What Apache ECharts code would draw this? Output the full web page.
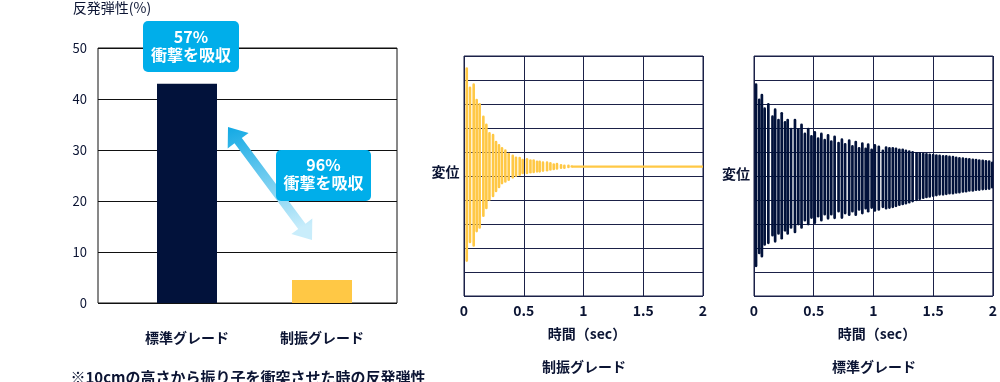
<!DOCTYPE html>
<html>
<head>
<meta charset="utf-8">
<script src="https://cdn.jsdelivr.net/npm/echarts@6/dist/echarts.min.js"></script>
<style>
html,body{margin:0;padding:0;background:#fff;}
#c{width:1000px;height:382px;}
</style>
</head>
<body>
<div id="c"></div>
<script>
// ---- Data ----
var barCategories = ['標準グレード', '制振グレード'];
var barValues = [43, 4.5];
var barTicks = [0, 10, 20, 30, 40, 50];
var timeTicks = ['0', '0.5', '1', '1.5', '2'];

// 制振グレード: oscillation peaks (time, upper, lower)
var damperTime = [0.023,0.050,0.081,0.106,0.131,0.162,0.187,0.213,0.243,0.268,0.293,0.318,0.346,0.374,0.408,0.435,0.466,0.491,0.527,0.556,0.583,0.611,0.633,0.661,0.695,0.723,0.751,0.778,0.812,0.840,0.874,0.901];
var damperHigh = [4.53,3.73,3.86,3.22,3.04,2.52,2.19,1.83,1.76,1.47,1.33,1.21,1.11,0.97,0.90,0.81,0.80,0.72,0.75,0.70,0.70,0.65,0.65,0.61,0.61,0.58,0.53,0.55,0.50,0.48,0.48,0.45];
var damperLow  = [-3.58,-2.80,-2.95,-2.35,-2.20,-1.71,-1.39,-1.03,-0.89,-0.68,-0.51,-0.35,-0.28,-0.21,-0.11,-0.04,0.00,0.07,0.07,0.10,0.11,0.14,0.14,0.17,0.19,0.22,0.24,0.26,0.29,0.29,0.32,0.35];
var damperRestTime = [0.901, 2.0];
var damperRestValue = [0.39, 0.39];

// 標準グレード: oscillation peaks (time, upper, lower)
var standardTime = [0.017,0.044,0.066,0.089,0.120,0.155,0.177,0.205,0.232,0.260,0.282,0.310,0.343,0.371,0.398,0.426,0.454,0.481,0.509,0.537,0.564,0.592,0.620,0.647,0.675,0.708,0.736,0.763,0.797,0.824,0.852,0.880,0.907,0.935,0.956,0.985,1.012,1.045,1.079,1.106,1.134,1.162,1.189,1.217,1.245,1.272,1.300,1.328,1.361,1.388,1.417,1.444,1.471,1.500,1.527,1.554,1.583,1.610,1.637,1.666,1.693,1.720,1.749,1.776,1.803,1.832,1.859,1.886,1.915,1.942,1.969,1.995];
var standardHigh = [3.86,3.23,3.43,2.86,3.04,2.53,2.82,2.39,2.67,2.29,
  2.39,2.01,2.39,2.00,2.19,1.81,2.01,1.71,1.87,1.61,
  1.81,1.55,1.75,1.49,1.69,1.43,1.57,1.38,1.53,1.29,
  1.47,1.21,1.41,1.19,1.36,1.15,1.33,1.27,1.10,1.24,
  1.21,1.21,1.19,1.15,1.15,1.10,1.07,1.04,1.00,0.99,
  0.97,0.96,0.94,0.93,0.91,0.90,0.88,0.87,0.85,0.84,
  0.81,0.79,0.78,0.76,0.75,0.73,0.72,0.70,0.69,0.67,
  0.66,0.60];
var standardLow = [-3.80,-3.26,-3.40,-2.91,-2.84,-2.52,-2.78,-2.45,-2.65,-2.32,
  -2.45,-2.20,-2.39,-2.06,-2.20,-1.90,-2.06,-1.79,-2.00,-1.73,
  -1.90,-1.65,-1.82,-1.65,-1.80,-1.52,-1.79,-1.60,-1.67,-1.52,
  -1.67,-1.45,-1.60,-1.40,-1.52,-1.37,-1.49,-1.45,-1.34,-1.40,
  -1.37,-1.34,-1.30,-1.25,-1.22,-1.19,-1.15,-1.10,-1.05,-1.00,
  -0.96,-0.93,-0.91,-0.88,-0.85,-0.82,-0.82,-0.80,-0.77,-0.77,
  -0.74,-0.73,-0.70,-0.69,-0.66,-0.66,-0.63,-0.62,-0.60,-0.59,
  -0.58,-0.52];

// ---- Styling ----
var FONT = "'Noto Sans CJK JP','Noto Sans',sans-serif";
var NAVY = '#0B1433';
var LINE = '#1B2148';
var BAR_NAVY = '#02123B';
var BAR_YELLOW = '#FFC845';
var BLUE = '#00AEEA';

function zip3(t, h, l) {
  var out = [];
  for (var i = 0; i < t.length; i++) out.push([t[i], h[i], l[i]]);
  return out;
}
function zip2(t, v) {
  var out = [];
  for (var i = 0; i < t.length; i++) out.push([t[i], v[i]]);
  return out;
}
function strokeRender(color, w) {
  return function (params, api) {
    var p1 = api.coord([api.value(0), api.value(1)]);
    var p2 = api.coord([api.value(0), api.value(2)]);
    return {
      type: 'rect',
      shape: { x: p1[0] - w / 2, y: p1[1], width: w, height: Math.max(1, p2[1] - p1[1]), r: w / 2 },
      style: { fill: color }
    };
  };
}

var chart = echarts.init(document.getElementById('c'), null, { renderer: 'canvas' });

var timeAxisBase = {
  type: 'value', min: 0, max: 2, interval: 0.5,
  axisLine: { show: false }, axisTick: { show: false },
  splitLine: { show: true, lineStyle: { color: LINE, width: 1 } },
  axisLabel: { color: NAVY, fontFamily: FONT, fontWeight: 'bold', fontSize: 14, margin: 8,
    formatter: function (v) { var s = String(v); return timeTicks.indexOf(s) >= 0 ? s : ''; } }
};
var dispAxisBase = {
  type: 'value', min: -5, max: 5, interval: 1,
  axisLine: { show: false }, axisTick: { show: false }, axisLabel: { show: false },
  splitLine: { show: true, lineStyle: { color: LINE, width: 1 } }
};

function T(text, x, y, font, color, extra) {
  var s = { text: text, x: x, y: y, font: font, fill: color || NAVY, textAlign: 'center', textVerticalAlign: 'middle' };
  if (extra) for (var k in extra) s[k] = extra[k];
  return { type: 'text', z: 100, style: s };
}

// arrow geometry (double-headed)
var arrowPts = [[228,127],[248.6,132.9],[241.8,138.0],[305.5,223.7],[312.3,218.6],[312,240],[291.4,234.1],[298.2,229.0],[234.5,143.3],[227.7,148.4]];

var option = {
  animation: false,
  backgroundColor: '#ffffff',
  grid: [
    { left: 98, top: 48, width: 299, height: 255, show: true, borderColor: '#111111', borderWidth: 1, backgroundColor: 'transparent' },
    { left: 119.5, top: 48, width: 270, height: 255 },
    { left: 464, top: 56, width: 239, height: 240, show: true, borderColor: LINE, borderWidth: 1, backgroundColor: 'transparent' },
    { left: 754, top: 56, width: 241, height: 240, show: true, borderColor: LINE, borderWidth: 1, backgroundColor: 'transparent' }
  ],
  xAxis: [
    { gridIndex: 0, type: 'category', data: barCategories, show: false },
    { gridIndex: 1, type: 'category', data: barCategories,
      axisLine: { show: false }, axisTick: { show: false },
      axisLabel: { color: NAVY, fontFamily: FONT, fontWeight: 'bold', fontSize: 14, margin: 28 } },
    Object.assign({ gridIndex: 2 }, timeAxisBase),
    Object.assign({ gridIndex: 3 }, timeAxisBase)
  ],
  yAxis: [
    { gridIndex: 0, type: 'value', min: barTicks[0], max: barTicks[barTicks.length - 1], interval: 10,
      axisLine: { show: false }, axisTick: { show: false },
      splitLine: { show: true, lineStyle: { color: '#111111', width: 1 } },
      axisLabel: { color: NAVY, fontFamily: FONT, fontSize: 13, margin: 11 } },
    { gridIndex: 1, type: 'value', min: 0, max: 50, show: false, splitLine: { show: false } },
    Object.assign({ gridIndex: 2 }, dispAxisBase),
    Object.assign({ gridIndex: 3 }, dispAxisBase)
  ],
  series: [
    { type: 'bar', xAxisIndex: 1, yAxisIndex: 1, barWidth: 60,
      data: [
        { value: barValues[0], itemStyle: { color: BAR_NAVY } },
        { value: barValues[1], itemStyle: { color: BAR_YELLOW } }
      ] },
    { type: 'custom', xAxisIndex: 2, yAxisIndex: 2, clip: true,
      renderItem: strokeRender(BAR_YELLOW, 2.6),
      encode: { x: 0, y: [1, 2] },
      data: zip3(damperTime, damperHigh, damperLow) },
    { type: 'line', xAxisIndex: 2, yAxisIndex: 2, symbol: 'none',
      lineStyle: { color: BAR_YELLOW, width: 2.4 },
      data: zip2(damperRestTime, damperRestValue) },
    { type: 'custom', xAxisIndex: 3, yAxisIndex: 3, clip: true,
      renderItem: strokeRender(BAR_NAVY, 2.7),
      encode: { x: 0, y: [1, 2] },
      data: zip3(standardTime, standardHigh, standardLow) }
  ],
  graphic: [
    T('反発弾性(%)', 112, 8, '14px ' + FONT, NAVY),
    { type: 'polygon', z: 90, shape: { points: arrowPts },
      style: { fill: new echarts.graphic.LinearGradient(0, 0, 0.4, 1, [
        { offset: 0, color: '#12A9E4' }, { offset: 1, color: '#C9EDFB' }]) } },
    { type: 'rect', z: 95, shape: { x: 143, y: 21, width: 96, height: 51, r: 5 }, style: { fill: BLUE } },
    T('57%\n衝撃を吸収', 191, 46, 'bold 16px ' + FONT, '#ffffff', { lineHeight: 18 }),
    { type: 'rect', z: 95, shape: { x: 276, y: 150, width: 95, height: 51, r: 5 }, style: { fill: BLUE } },
    T('96%\n衝撃を吸収', 323.5, 174, 'bold 16px ' + FONT, '#ffffff', { lineHeight: 18 }),
    T('※10cmの高さから振り子を衝突させた時の反発弾性', 248, 377, 'bold 15px ' + FONT, NAVY),
    T('変位', 445.5, 172, 'bold 14px ' + FONT, NAVY),
    T('変位', 736, 174, 'bold 14px ' + FONT, NAVY),
    T('時間（sec）', 587, 334, 'bold 14px ' + FONT, NAVY),
    T('時間（sec）', 877, 334, 'bold 14px ' + FONT, NAVY),
    T('制振グレード', 584, 367, 'bold 14px ' + FONT, NAVY),
    T('標準グレード', 874, 367, 'bold 14px ' + FONT, NAVY)
  ]
};
chart.setOption(option);
</script>
</body>
</html>
